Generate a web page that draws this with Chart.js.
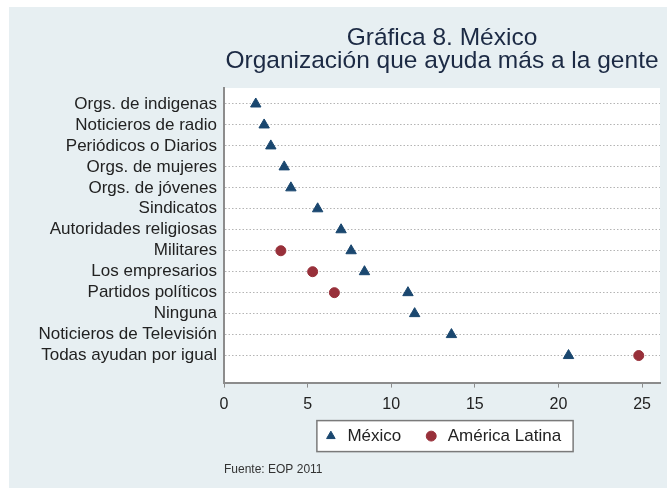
<!DOCTYPE html>
<html>
<head>
<meta charset="utf-8">
<script src="https://cdn.jsdelivr.net/npm/chart.js@4"></script>
<style>
  html, body { margin: 0; padding: 0; background: #ffffff; }
  #wrap { position: absolute; left: 9px; top: 7px; width: 658px; height: 481px; background: #e7eff2; }
</style>
</head>
<body>
<div id="wrap"><canvas id="chart"></canvas></div>
<script>
const categories = [
  'Orgs. de indigenas',
  'Noticieros de radio',
  'Periódicos o Diarios',
  'Orgs. de mujeres',
  'Orgs. de jóvenes',
  'Sindicatos',
  'Autoridades religiosas',
  'Militares',
  'Los empresarios',
  'Partidos políticos',
  'Ninguna',
  'Noticieros de Televisión',
  'Todas ayudan por igual',
];

const mexico = [1.9, 2.4, 2.8, 3.6, 4.0, 5.6, 7.0, 7.6, 8.4, 11.0, 11.4, 13.6, 20.6];
const latam = [null, null, null, null, null, null, null, 3.4, 5.3, 6.6, null, null, 24.8];

const xTicks = [0, 5, 10, 15, 20, 25];

const font = "'Liberation Sans', Arial, Helvetica, sans-serif";
const grey = '#8c8c8c';

const toPoints = (arr) => arr
  .map((v, i) => (v === null ? null : { x: v, y: i }))
  .filter((p) => p !== null);

// white plot area + boxed legend
const frame = {
  id: 'frame',
  afterLayout(chart) {
    // x axis box is kept short so the legend sits close; let its labels draw past it
    chart.scales.x.bottom += 14;
  },
  beforeDraw(chart) {
    const { ctx, chartArea: a } = chart;
    ctx.save();
    ctx.fillStyle = '#ffffff';
    ctx.fillRect(a.left, a.top, a.right - a.left, a.bottom - a.top);
    ctx.restore();
  },
  afterDraw(chart) {
    const boxes = chart.legend.legendHitBoxes;
    if (!boxes || !boxes.length) return;
    const left = Math.min(...boxes.map((b) => b.left)) - 6;
    const right = Math.max(...boxes.map((b) => b.left + b.width)) + 12;
    const cy = boxes[0].top + boxes[0].height / 2;
    const ctx = chart.ctx;
    ctx.save();
    ctx.fillStyle = '#ffffff';
    ctx.strokeStyle = '#7a7a7a';
    ctx.lineWidth = 1.5;
    ctx.globalCompositeOperation = 'destination-over';
    ctx.fillRect(left, cy - 15.5, right - left, 31);
    ctx.globalCompositeOperation = 'source-over';
    ctx.strokeRect(left, cy - 15.5, right - left, 31);
    ctx.restore();
  },
};

const chart = new Chart(document.getElementById('chart'), {
  type: 'scatter',
  data: {
    datasets: [
      {
        label: 'México',
        data: toPoints(mexico),
        pointStyle: 'triangle',
        pointRadius: 6,
        backgroundColor: '#1a476f',
        borderColor: '#1a476f',
        borderWidth: 1,
      },
      {
        label: 'América Latina',
        data: toPoints(latam),
        pointStyle: 'circle',
        pointRadius: 5,
        backgroundColor: '#98303a',
        borderColor: '#98303a',
        borderWidth: 1,
      },
    ],
  },
  options: {
    responsive: true,
    maintainAspectRatio: false,
    animation: false,
    layout: { padding: { left: 0, right: 4, top: 0, bottom: 0 } },
    plugins: {
      title: {
        display: true,
        fullSize: false,
        text: ['Gráfica 8. México', 'Organización que ayuda más a la gente'],
        color: '#1c2a44',
        font: { family: font, size: 24.5, weight: 'normal', lineHeight: 0.94 },
        padding: { top: 20, bottom: 15 },
      },
      legend: {
        position: 'bottom',
        fullSize: false,
        labels: {
          usePointStyle: true,
          boxWidth: 16,
          boxHeight: 7,
          padding: 22,
          color: '#222222',
          font: { family: font, size: 17 },
        },
      },
      subtitle: {
        display: true,
        position: 'bottom',
        fullSize: false,
        align: 'start',
        text: 'Fuente: EOP 2011',
        color: '#333333',
        font: { family: font, size: 12 },
        padding: { top: 8, bottom: 11 },
      },
      tooltip: { enabled: false },
    },
    scales: {
      x: {
        type: 'linear',
        min: 0,
        max: 26.07,
        afterBuildTicks: (scale) => { scale.ticks = xTicks.map((v) => ({ value: v })); },
        afterFit: (scale) => { scale.height = 23; },
        ticks: { color: '#222222', font: { family: font, size: 16 }, padding: 7 },
        grid: { drawOnChartArea: false, drawTicks: true, tickLength: 5, tickColor: grey, tickWidth: 1 },
        border: { display: true, color: grey, width: 2 },
      },
      y: {
        type: 'linear',
        reverse: true,
        min: -0.76,
        max: 13.29,
        afterBuildTicks: (scale) => { scale.ticks = categories.map((c, i) => ({ value: i })); },
        afterFit: (scale) => { scale.width = 215; },
        ticks: {
          color: '#222222',
          font: { family: font, size: 17 },
          padding: 7,
          callback: (v) => categories[v],
        },
        grid: { color: '#b4b4b4', lineWidth: 1, drawTicks: false },
        border: { display: true, color: grey, width: 2, dash: [1.5, 2] },
      },
    },
  },
  plugins: [frame],
});
</script>
</body>
</html>
